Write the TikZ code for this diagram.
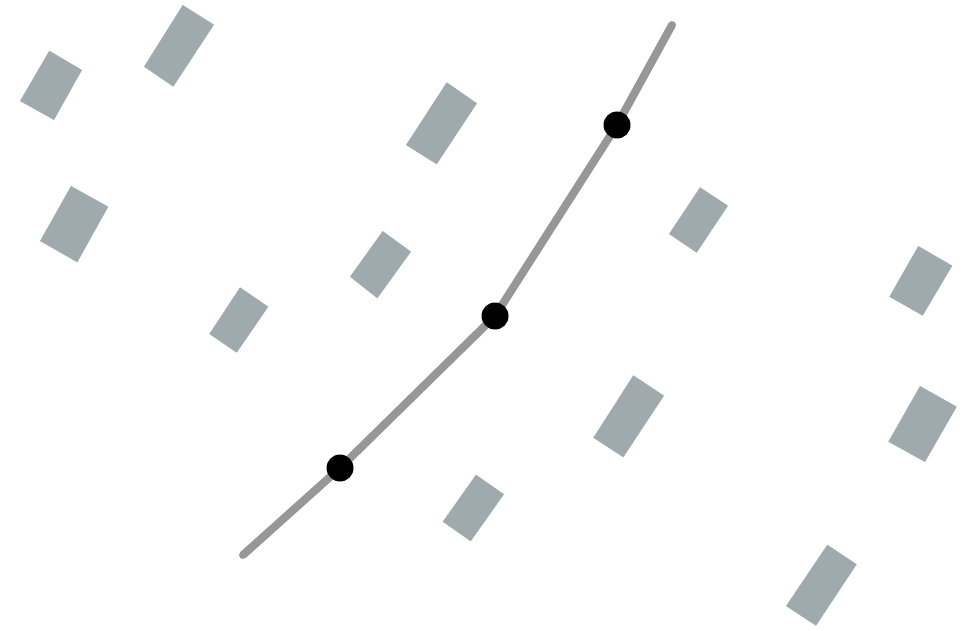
\documentclass[tikz,border=0pt]{standalone}
\begin{document}
\begin{tikzpicture}[x=1pt,y=-1pt,
  blk/.style={fill=slab,draw=none},
  track/.style={draw=trackgray,line width=8pt,line cap=round,line join=round},
  stop/.style={circle,fill=black,inner sep=0pt,minimum size=27pt}]
\definecolor{slab}{RGB}{158,170,174}
\definecolor{trackgray}{RGB}{152,150,150}
\useasboundingbox (0,0) rectangle (963,631);
% rectangles
\fill[blk] (49.3,50.7) -- (82,70) -- (54,120) -- (20,101) -- cycle;
\fill[blk] (182.7,5) -- (214,24.7) -- (173.3,86.7) -- (144,66.7) -- cycle;
\fill[blk] (71,186) -- (108.3,206.7) -- (77.3,262.3) -- (40,241) -- cycle;
\fill[blk] (240,287.3) -- (268.3,306.7) -- (236.7,352.7) -- (209.3,334) -- cycle;
\fill[blk] (446.7,82.3) -- (477,103.3) -- (436.7,164.3) -- (406,145) -- cycle;
\fill[blk] (382.7,231) -- (411,251.7) -- (377.3,298.3) -- (350,276.7) -- cycle;
\fill[blk] (700,187.3) -- (728,205.7) -- (696.7,252.7) -- (669,234) -- cycle;
\fill[blk] (918.3,246) -- (952.3,265.7) -- (922.7,315.7) -- (889.3,296.7) -- cycle;
\fill[blk] (633.3,375.3) -- (664,395.7) -- (623.3,457.3) -- (593.3,437.7) -- cycle;
\fill[blk] (920,386) -- (956.7,406.7) -- (925,462) -- (888.3,441.7) -- cycle;
\fill[blk] (476,474.7) -- (504,494.3) -- (470.7,541.3) -- (442.7,521.7) -- cycle;
\fill[blk] (827.3,544.7) -- (856.7,564.3) -- (816,625.7) -- (786,606) -- cycle;
% track
\coordinate (s) at (243,555);
\coordinate (e) at (672,25);
\coordinate (p1) at (340,468);
\coordinate (p2) at (495,316);
\coordinate (p3) at (617,125);
\draw[track] (s) -- (p1) -- (p2) -- (p3) -- (e);
\node[stop] (d1) at (p1) {};
\node[stop] (d2) at (p2) {};
\node[stop] (d3) at (p3) {};
\end{tikzpicture}
\end{document}
